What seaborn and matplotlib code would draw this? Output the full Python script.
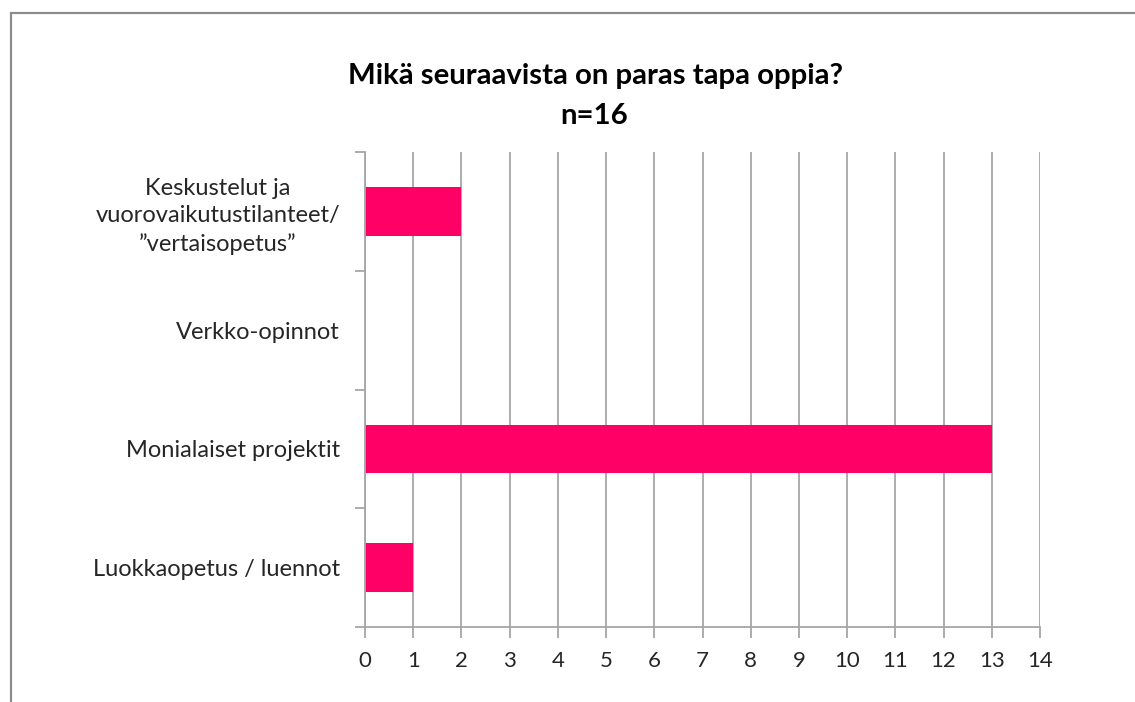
import pandas as pd
import numpy as np
import matplotlib.pyplot as plt
import matplotlib.patches as patches
from matplotlib.ticker import MultipleLocator, FixedLocator
import seaborn as sns

# ── DATA ─────────────────────────────────────
categories = [
    'Keskustelut ja\nvuorovaikutustilanteet/\n\u201dvertaisopetus\u201d',
    'Verkko-opinnot',
    'Monialaiset projektit',
    'Luokkaopetus / luennot',
]
answers = [2, 0, 13, 1]
title_line1 = 'Mikä seuraavista on paras tapa oppia?'
title_line2 = 'n=16'

df = pd.DataFrame({'tapa': categories, 'vastaukset': answers})

# ── STYLE ────────────────────────────────────
sns.set_style('white')
plt.rcParams['font.family'] = ['Lato', 'DejaVu Sans']
grey = '#A6A6A6'

fig = plt.figure(figsize=(11.35, 7.02), dpi=100)
ax = fig.add_axes([365 / 1135, 1 - 627 / 702, 675 / 1135, 475 / 702])

sns.barplot(data=df, x='vastaukset', y='tapa', orient='h', color='#FF0066',
            width=0.41, saturation=1, linewidth=0, ax=ax, zorder=3)

ax.set_xlim(0, 14)
ax.set_ylim(3.5, -0.5)
ax.xaxis.set_major_locator(MultipleLocator(1))
ax.set_xlabel('')
ax.set_ylabel('')

ax.grid(axis='x', color=grey, linewidth=1.3, zorder=0)
ax.set_axisbelow(True)

for side in ['top', 'right']:
    ax.spines[side].set_visible(False)
for side in ['left', 'bottom']:
    ax.spines[side].set_color(grey)
    ax.spines[side].set_linewidth(1.3)
    ax.spines[side].set_zorder(4)

# category tick marks sit between the bars
ax.yaxis.set_minor_locator(FixedLocator([-0.5, 0.5, 1.5, 2.5, 3.5]))
ax.tick_params(axis='y', which='major', length=0, pad=18, labelsize=17, labelcolor='#262626')
ax.tick_params(axis='y', which='minor', length=7, width=1.3, color=grey, direction='out', left=True)
ax.tick_params(axis='x', which='major', length=8, width=1.3, color=grey, direction='out',
               pad=9, labelsize=16, labelcolor='#262626', bottom=True)
for lbl in ax.get_yticklabels():
    lbl.set_horizontalalignment('right')
    lbl.set_multialignment('center')
    lbl.set_linespacing(1.35)

# ── TITLE ────────────────────────────────────
fig.text(595 / 1135, 1 - 76 / 702, title_line1, ha='center', va='center',
         fontsize=21.2, fontweight='bold', color='black')
fig.text(594 / 1135, 1 - 116 / 702, title_line2, ha='center', va='center',
         fontsize=21.2, fontweight='bold', color='black')

# chart area border (cut off at right and bottom)
border = patches.Rectangle((11 / 1135, -0.05), 1.1, 1 - 13 / 702 + 0.05,
                           transform=fig.transFigure, fill=False,
                           edgecolor='#8C8C8C', linewidth=1.6)
fig.patches.append(border)

plt.savefig('out.png', dpi=100)
